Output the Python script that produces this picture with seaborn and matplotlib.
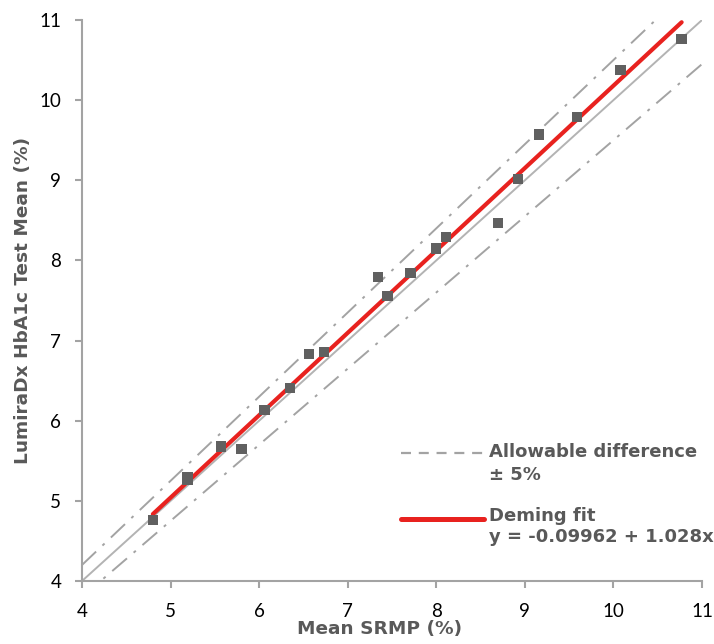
import numpy as np
import pandas as pd
import seaborn as sns
import matplotlib.pyplot as plt
from matplotlib.lines import Line2D

srmp = [4.80, 5.19, 5.19, 5.57, 5.80, 6.06, 6.35, 6.56, 6.73, 7.34, 7.45,
        7.71, 8.00, 8.11, 8.70, 8.92, 9.16, 9.59, 10.08, 10.77]
lumira = [4.76, 5.30, 5.26, 5.68, 5.65, 6.13, 6.41, 6.83, 6.86, 7.79, 7.56,
          7.84, 8.15, 8.29, 8.47, 9.02, 9.57, 9.79, 10.38, 10.76]

intercept = -0.09962
slope = 1.028
allow = 0.05
ticks = [4, 5, 6, 7, 8, 9, 10, 11]

sns.set_style("white")
plt.rcParams['font.family'] = ['Lato', 'DejaVu Sans']

df = pd.DataFrame({"x": srmp, "y": lumira})

W, H = 714, 644
fig = plt.figure(figsize=(W / 100, H / 100), dpi=100)
ax = fig.add_axes([82 / W, 1 - 581 / H, 620 / W, 561 / H])

grey = "#a3a3a3"
red = "#e8221f"
txt_col = "#595959"
line_x = np.array([4.0, 11.0])
sns.lineplot(x=line_x, y=line_x, ax=ax, color="#b3b3b3", lw=1.4)
for f in (1 + allow, 1 - allow):
    sns.lineplot(x=line_x, y=line_x * f, ax=ax, color=grey, lw=1.4,
                 linestyle=(0, (10, 4.5, 1.5, 4.5)))

fit_x = np.array([min(srmp), max(srmp)])
sns.lineplot(x=fit_x, y=intercept + slope * fit_x, ax=ax, color=red, lw=3)

sns.scatterplot(data=df, x="x", y="y", ax=ax, marker="s", s=55,
                color="#606060", edgecolor="none", zorder=5)

ax.set_xlim(4, 11)
ax.set_ylim(4, 11)
ax.set_xticks(ticks)
ax.set_yticks(ticks)
ax.tick_params(axis="both", direction="out", length=5, width=1.5, color=grey,
               labelsize=13.5, labelcolor="black", bottom=True, left=True)
ax.tick_params(axis="x", pad=11)
ax.tick_params(axis="y", pad=10)
for s in ["top", "right"]:
    ax.spines[s].set_visible(False)
for s in ["left", "bottom"]:
    ax.spines[s].set_color(grey)
    ax.spines[s].set_linewidth(1.5)

lab = dict(fontsize=13.3, fontweight="bold", color=txt_col, family="DejaVu Sans")
ax.set_xlabel("Mean SRMP (%)", **lab)
ax.set_ylabel("LumiraDx HbA1c Test Mean (%)", **lab)
ax.xaxis.set_label_coords(0.48, -0.069)
ax.yaxis.set_label_coords(-0.08, 0.5)

# legend drawn by hand so the handle sits on the first line of each label
def fx(px):
    return px / W


def fy(py):
    return 1 - py / H


fig.add_artist(Line2D([fx(401), fx(484)], [fy(452.5), fy(452.5)],
                      transform=fig.transFigure, color=grey, lw=1.6,
                      linestyle=(0, (4.5, 3.5))))
fig.add_artist(Line2D([fx(401), fx(484)], [fy(519), fy(519)],
                      transform=fig.transFigure, color=red, lw=3.6))
leg = dict(lab, fontsize=13)
leg_lines = [("Allowable difference", 457), ("± 5%", 480),
             ("Deming fit", 521), ("y = -0.09962 + 1.028x", 542)]
for s, py in leg_lines:
    fig.text(fx(489), fy(py), s, va="baseline", ha="left", **leg)

fig.savefig("out.png", dpi=100)
